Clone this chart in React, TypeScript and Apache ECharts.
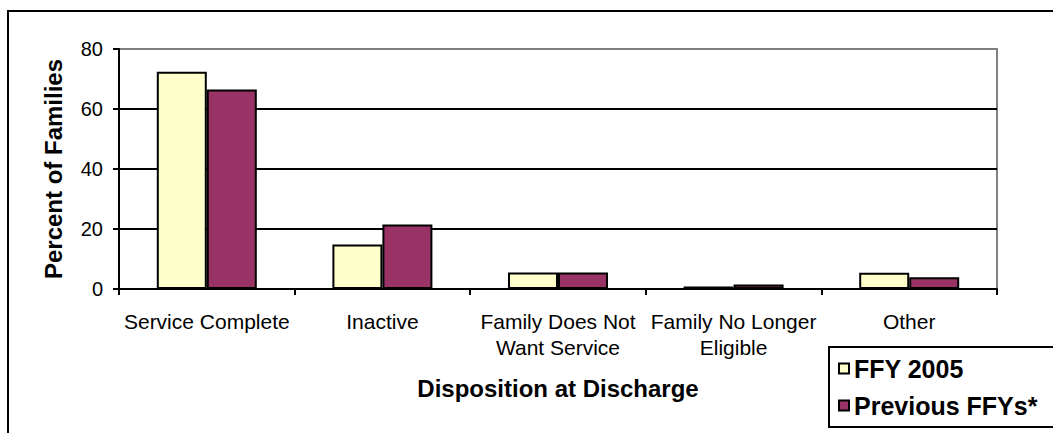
import React, { useEffect, useRef } from "react";
import * as echarts from "echarts";

const categories = [
  "Service Complete",
  "Inactive",
  "Family Does Not\nWant Service",
  "Family No Longer\nEligible",
  "Other",
];
const ffy2005 = [72.4, 14.8, 5.5, 0.8, 5.4];
const previousFfys = [66.5, 21.5, 5.5, 1.5, 3.9];
const seriesNames = ["FFY 2005", "Previous FFYs*"];
const yTicks = { min: 0, max: 80, interval: 20 };

const FONT = 'Arial, "Liberation Sans", sans-serif';

export default function App() {
  const ref = useRef<HTMLDivElement>(null);
  useEffect(() => {
    if (!ref.current) return;
    const chart = echarts.init(ref.current, null, { renderer: "svg" });
    chart.setOption({
      animation: false,
      backgroundColor: "#ffffff",
      textStyle: { fontFamily: FONT },
      grid: {
        left: 119,
        top: 49,
        right: 56,
        bottom: 144,
        show: true,
        borderColor: "#808080",
        borderWidth: 2,
        backgroundColor: "#ffffff",
      },
      graphic: [
        {
          type: "rect",
          z: -10,
          shape: { x: 8, y: 11, width: 1100, height: 500 },
          style: { fill: "none", stroke: "#000", lineWidth: 2 },
        },
        {
          type: "rect",
          z: 1,
          shape: { x: 829, y: 347, width: 300, height: 80 },
          style: { fill: "#fff", stroke: "#000", lineWidth: 2 },
        },
      ],
      legend: {
        orient: "vertical",
        left: 838,
        top: 356,
        padding: 0,
        itemWidth: 10,
        itemHeight: 10,
        itemGap: 12,
        itemTextGap: 18,
        icon: "rect",
        z: 5,
        textStyle: {
          fontFamily: FONT,
          fontSize: 25,
          fontWeight: "bold",
          color: "#000",
          lineHeight: 25,
        },
        data: seriesNames,
      },
      xAxis: {
        type: "category",
        data: categories,
        boundaryGap: true,
        name: "Disposition at Discharge",
        nameLocation: "middle",
        nameGap: 87,
        nameTextStyle: {
          fontFamily: FONT,
          fontSize: 24,
          fontWeight: "bold",
          color: "#000",
        },
        axisLine: { show: true, lineStyle: { color: "#000", width: 2 } },
        axisTick: { show: true, length: 6, lineStyle: { color: "#000", width: 2 } },
        axisLabel: {
          interval: 0,
          margin: 19,
          fontFamily: FONT,
          fontSize: 21,
          lineHeight: 26,
          color: "#000",
        },
        splitLine: { show: false },
      },
      yAxis: {
        type: "value",
        min: yTicks.min,
        max: yTicks.max,
        interval: yTicks.interval,
        name: "Percent of Families",
        nameLocation: "middle",
        nameGap: 54,
        nameTextStyle: {
          fontFamily: FONT,
          fontSize: 24,
          fontWeight: "bold",
          color: "#000",
        },
        axisLine: { show: true, lineStyle: { color: "#000", width: 2 } },
        axisTick: { show: true, length: 6, lineStyle: { color: "#000", width: 2 } },
        axisLabel: {
          margin: 16,
          fontFamily: FONT,
          fontSize: 20,
          color: "#000",
        },
        splitLine: {
          show: true,
          showMinLine: false,
          showMaxLine: false,
          lineStyle: { color: "#000", width: 2 },
        },
      },
      series: [
        {
          name: seriesNames[0],
          type: "bar",
          data: ffy2005,
          barWidth: 50,
          barGap: "0%",
          itemStyle: { color: "#FFFFCC", borderColor: "#000", borderWidth: 2 },
        },
        {
          name: seriesNames[1],
          type: "bar",
          data: previousFfys,
          barWidth: 50,
          barGap: "0%",
          itemStyle: { color: "#993366", borderColor: "#000", borderWidth: 2 },
        },
      ],
    });
    return () => chart.dispose();
  }, []);
  return (
    <div
      ref={ref}
      style={{ position: "fixed", left: 0, top: 0, width: 1053, height: 433 }}
    />
  );
}
